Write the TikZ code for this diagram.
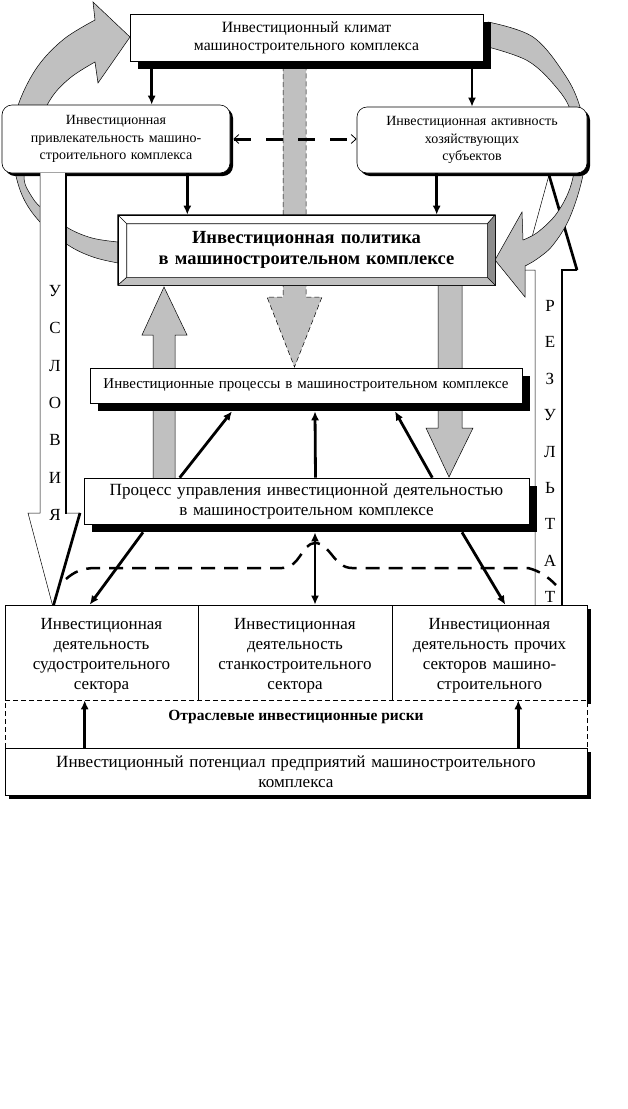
\documentclass[tikz,border=0pt]{standalone}
\usepackage{fontspec}
\setmainfont{Liberation Serif}
\usepackage{xcolor}
\usetikzlibrary{arrows.meta,positioning,calc,shadows}

\definecolor{bandgray}{RGB}{192,192,192}
\definecolor{bevelgray}{RGB}{140,140,140}

\begin{document}
\begin{tikzpicture}[
    x=1pt, y=-1pt,
    font=\fontsize{15}{18}\selectfont,
    box/.style={rectangle, draw=black, fill=white, align=center, inner sep=2pt, line width=0.6pt},
    roundbox/.style={box, rounded corners=10pt},
    blackshadow/.style={drop shadow={shadow xshift=#1, shadow yshift=-#1, fill=black, opacity=1}},
    sectortext/.style={align=center, text width=188pt, inner sep=2pt, font=\fontsize{17}{20}\selectfont},
    arrow/.style={-{Latex[length=9pt,width=8pt]}, line width=2.8pt},
    twoway/.style={{Latex[length=9pt,width=8pt]}-{Latex[length=9pt,width=8pt]}, line width=2.8pt},
    dasharrow/.style={{Straight Barb[length=5pt,width=9pt,line width=0.8pt]}-{Straight Barb[length=5pt,width=9pt,line width=0.8pt]}, line width=3pt, dash pattern=on 17pt off 15pt},
    humpline/.style={line width=2.5pt, dash pattern=on 14pt off 9pt},
    band/.style={fill=bandgray, draw=black, line width=0.5pt},
    hollow/.style={fill=white, draw=black, line width=0.5pt},
    vletters/.style={align=center, inner sep=0pt}
  ]
  \useasboundingbox (0,0) rectangle (627,1109);

  % gray loops and hollow arrow on the right
  \draw[band] plot[smooth, tension=0.6] coordinates {(118,263) (93,257) (68,245) (40,222) (22,195) (13,160) (13,130) (20,100) (38,66) (64,39) (95,20)}
    -- (93,2) -- (130,37) -- (98,83) -- (95,62)
    -- plot[smooth, tension=0.6] coordinates {(95,62) (70,78) (50,100) (35,135) (24,175) (32,197) (45,211) (68,228) (92,238) (118,242)} -- cycle;
  \draw[hollow] (535,605) -- (535,270) -- (523,270) -- (549,175) -- (577,270) -- (562,270) -- (562,605);
  \fill (547.7,175.4) -- (550.3,174.6) -- (578.3,269.6) -- (575.7,270.4) -- cycle;
  \fill (560.7,268.7) rectangle (577,271.3);
  \fill (560.7,268.7) rectangle (563.3,605);
  \draw[band] plot[smooth, tension=0.6] coordinates {(488,22) (533,37) (565,75) (580,107) (585,140) (583,175) (570,217) (553,245) (537,259) (525,266)}
    -- (525,297) -- (495,260) -- (522,212) -- (523,240)
    -- plot[smooth, tension=0.6] coordinates {(523,240) (538,232) (557,213) (571,185) (576,150) (571,112) (556,87) (528,61) (488,47)} -- cycle;

  % gray block arrows
  \draw[band, dash pattern=on 5pt off 3pt] (283,66) -- (283,297) -- (267,297) -- (294.5,367) -- (322,297) -- (306,297) -- (306,66);
  \draw[band] (153,478) -- (153,335) -- (142,335) -- (164,287) -- (187,335) -- (175,335) -- (175,478);
  \draw[band] (438,285) -- (438,428) -- (426,428) -- (449,477) -- (473,428) -- (462,428) -- (462,285);

  \node[box, blackshadow=8pt, minimum width=353pt, minimum height=47pt, text width=345pt,
    font=\fontsize{15.7}{18}\selectfont] (climate) at (306.5,37.5)
    {Инвестиционный климат\\машиностроительного комплекса};
  \node[roundbox, blackshadow=3pt, minimum width=228pt, minimum height=68pt, text width=220pt,
    font=\fontsize{14}{17.5}\selectfont] (attract) at (116,139)
    {Инвестиционная\\привлекательность машино-\\строительного комплекса};
  \node[roundbox, blackshadow=3pt, minimum width=230pt, minimum height=66pt, text width=222pt,
    font=\fontsize{14}{17.5}\selectfont] (activity) at (472,140)
    {Инвестиционная активность\\хозяйствующих\\субъектов};

  \node[box, minimum width=377pt, minimum height=70pt, text width=355pt,
    font=\fontsize{18.5}{21.5}\selectfont\bfseries] (policy) at (306.5,250)
    {Инвестиционная политика\\в машиностроительном комплексе};
  \coordinate (pi1) at ($(policy.north west)+(9,9)$);
  \coordinate (pi2) at ($(policy.north east)+(-8,9)$);
  \coordinate (pi3) at ($(policy.south east)+(-8,-8)$);
  \coordinate (pi4) at ($(policy.south west)+(9,-8)$);
  \fill[bevelgray] (policy.north east) -- (policy.south east) -- (pi3) -- (pi2) -- cycle;
  \fill[bandgray] (policy.south west) -- (policy.south east) -- (pi3) -- (pi4) -- cycle;
  \draw[line width=0.6pt] (policy.north west) rectangle (policy.south east) (pi1) rectangle (pi3)
    (policy.north west) -- (pi1) (policy.north east) -- (pi2) (policy.south east) -- (pi3) (policy.south west) -- (pi4);

  \node[box, blackshadow=8pt, minimum width=432pt, minimum height=35pt, text width=425pt] (processes) at (306,385.5)
    {Инвестиционные процессы в машиностроительном комплексе};
  \node[box, blackshadow=8pt, minimum width=445pt, minimum height=46pt, text width=438pt,
    font=\fontsize{17.1}{20}\selectfont] (control) at (306.5,501)
    {Процесс управления инвестиционной деятельностью\\в машиностроительном комплексе};

  % hollow arrow on the left
  \draw[hollow] (40,173) -- (40,513) -- (28,513) -- (53,607) -- (80,513) -- (66,513) -- (66,173);
  \fill (64.7,173) rectangle (67.3,514);
  \fill (78.7,512.6) -- (81.3,513.4) -- (54.3,607.4) -- (51.7,606.6) -- cycle;
  \node[vletters, font=\fontsize{17}{37.3}\selectfont] (cond) at (55,403) {У\\С\\Л\\О\\В\\И\\Я};
  \node[vletters, font=\fontsize{17}{36.4}\selectfont] (res) at (550,451.6) {Р\\Е\\З\\У\\Л\\Ь\\Т\\А\\Т};

  % sectors, risks, potential
  \node[box, minimum width=193pt, minimum height=95pt] (ship) at (101.5,652.5) {};
  \node[box, minimum width=194pt, minimum height=95pt] (tool) at (295,652.5) {};
  \node[box, blackshadow=4pt, minimum width=195pt, minimum height=95pt] (other) at (489.5,652.5) {};
  \node[sectortext, below=11pt of ship.north] (shiptext)
    {Инвестиционная\\деятельность\\судостроительного\\сектора};
  \node[sectortext, below=11pt of tool.north] (tooltext)
    {Инвестиционная\\деятельность\\станкостроительного\\сектора};
  \node[sectortext, below=11pt of other.north] (othertext)
    {Инвестиционная\\деятельность прочих\\секторов машино-\\строительного\\комплекса};
  \node[draw, dash pattern=on 5pt off 3pt, fill=white, line width=0.6pt, minimum width=582pt, minimum height=49pt] (risks) at (296,724.5) {};
  \node[font=\fontsize{15.5}{17}\selectfont\bfseries] (riskstext) at (296,717) {Отраслевые инвестиционные риски};
  \node[box, blackshadow=4pt, minimum width=582pt, minimum height=47pt, text width=575pt,
    font=\fontsize{17.1}{20}\selectfont] (potential) at (296,771.5)
    {Инвестиционный потенциал предприятий машиностроительного\\комплекса};

  % black connectors
  \coordinate (c1) at ([xshift=22pt]climate.south west);
  \draw[arrow] (c1) -- (c1 |- attract.north);
  \draw[arrow] (climate.south -| activity.north) -- (activity.north);
  \coordinate (c3) at ([xshift=-43pt]attract.south east);
  \draw[arrow] (c3) -- (c3 |- policy.north);
  \coordinate (c4) at ([xshift=80pt]activity.south west);
  \draw[arrow] (c4) -- (c4 |- policy.north);
  \draw[dasharrow] ([xshift=3pt]attract.east) -- (activity.west |- attract.east);

  \coordinate (pbot) at ([yshift=-8pt]processes.south);
  \draw[arrow] ([xshift=96pt]control.north west) -- ([xshift=-74pt]pbot);
  \draw[arrow] ([xshift=9pt]control.north) -- ([xshift=9pt]pbot);
  \draw[arrow] ([xshift=-97pt]control.north east) -- ([xshift=89pt]pbot);

  \coordinate (cbot) at ([yshift=-8pt]control.south);
  \draw[arrow] ([xshift=-163.5pt]cbot) -- ([xshift=85pt]ship.north west);
  \draw[twoway] ([xshift=8.5pt]cbot) -- ([xshift=20pt]tool.north);
  \draw[arrow] ([xshift=155.5pt]cbot) -- ([xshift=-82pt]other.north east);

  \coordinate (p1) at ([xshift=80pt]potential.north west);
  \draw[arrow] (p1) -- (p1 |- ship.south);
  \coordinate (p2) at ([xshift=-69pt]potential.north east);
  \draw[arrow] (p2) -- (p2 |- other.south);

  \draw[humpline] (66,579) .. controls (74,572) and (82,568) .. (96,568) -- (282,568)
    .. controls (300,568) and (302,543) .. (315,543) .. controls (330,543) and (334,568) .. (352,568)
    -- (528,568) .. controls (540,571) and (548,577) .. (556,585);
\end{tikzpicture}
\end{document}
